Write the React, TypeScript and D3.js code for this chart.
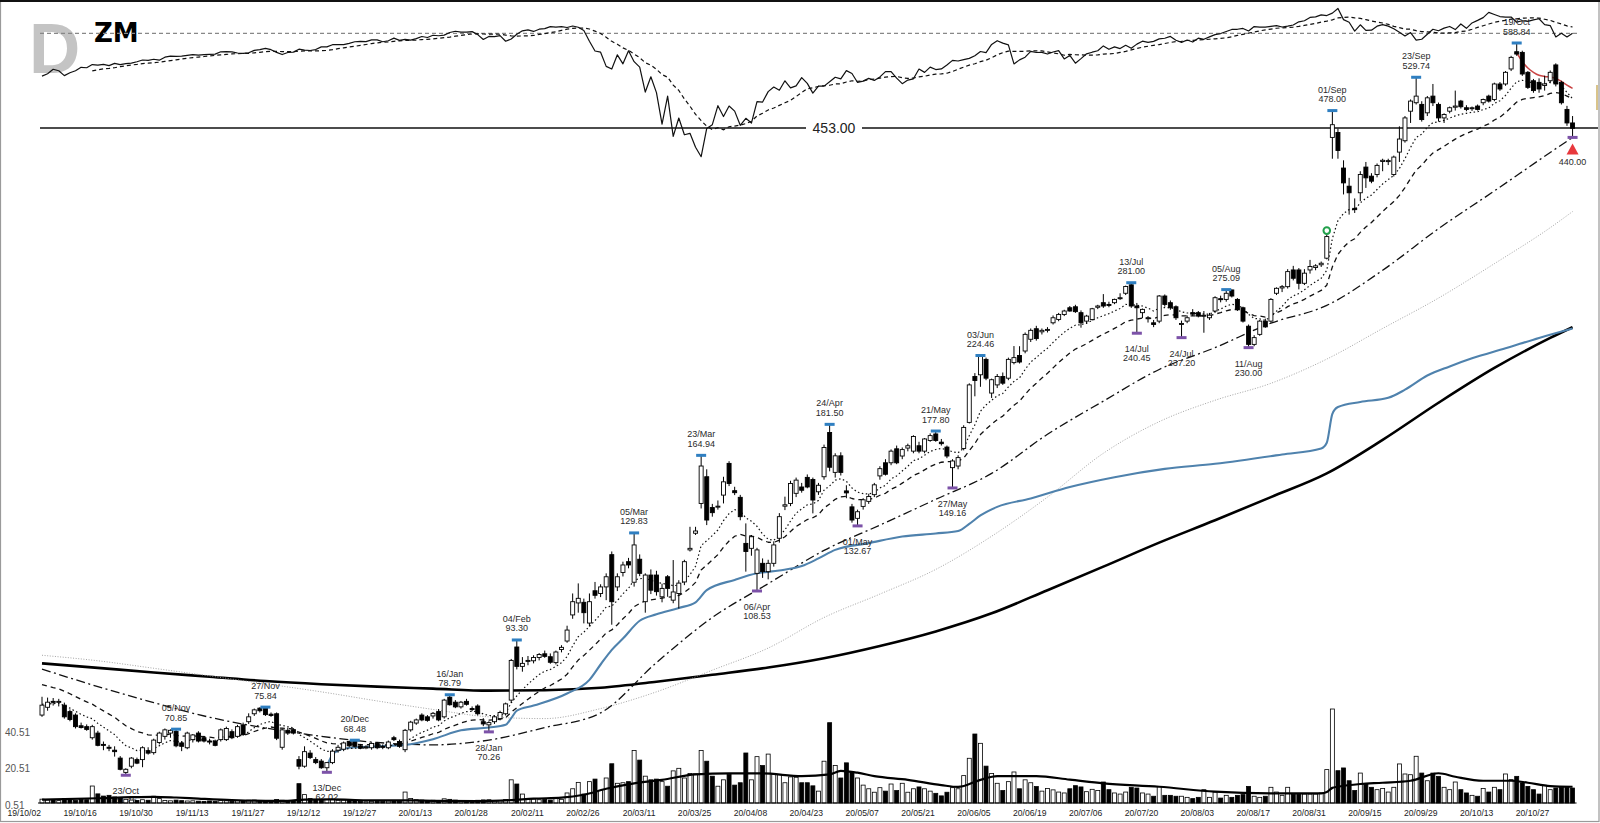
import React, { useEffect, useRef } from 'react';
import * as d3 from 'd3';

// x-axis labels, one every 10 trading days starting 2019-10-02
const tickLabels = ['19/10/02', '19/10/16', '19/10/30', '19/11/13', '19/11/27', '19/12/12', '19/12/27', '20/01/13', '20/01/28', '20/02/11', '20/02/26', '20/03/11', '20/03/25', '20/04/08', '20/04/23', '20/05/07', '20/05/21', '20/06/05', '20/06/19', '20/07/06', '20/07/20', '20/08/03', '20/08/17', '20/08/31', '20/09/15', '20/09/29', '20/10/13', '20/10/27'];

// ZM daily candles [open, high, low, close], trading day 0 = 2019-10-02
const ohlc: number[][] = [
  [74.0, 78.3, 73.6, 76.3], [75.8, 78.1, 75.0, 77.0], [77.2, 78.0, 76.2, 77.0], [77.0, 77.8, 76.0, 77.2], [76.3, 76.9, 73.2, 73.6],
  [74.8, 75.3, 72.6, 73.0], [74.0, 74.4, 71.0, 71.4], [71.6, 72.3, 71.0, 71.2], [71.4, 71.9, 70.5, 70.8], [69.0, 71.8, 68.6, 71.4],
  [70.0, 70.5, 67.2, 67.4], [67.6, 68.2, 66.4, 67.5], [67.0, 67.5, 66.2, 66.8], [66.4, 67.2, 65.1, 66.1], [64.8, 65.2, 62.4, 62.6],
  [62.0, 62.8, 61.46, 62.6], [63.2, 65.0, 62.8, 64.8], [64.5, 64.9, 63.6, 63.8], [64.5, 67.2, 63.0, 66.9], [66.3, 67.0, 65.5, 65.8],
  [65.9, 68.8, 65.5, 68.5], [68.0, 70.3, 67.6, 70.0], [69.3, 71.0, 68.6, 70.7], [70.0, 70.8, 69.0, 70.6], [70.4, 70.85, 67.0, 67.3],
  [67.9, 68.3, 66.2, 67.2], [66.9, 70.3, 66.6, 70.0], [68.6, 69.8, 68.0, 69.6], [70.0, 70.4, 68.0, 68.3], [69.0, 69.4, 68.0, 68.3],
  [68.3, 68.8, 67.6, 68.2], [68.3, 68.6, 67.2, 67.4], [68.6, 71.0, 68.2, 70.7], [68.6, 71.4, 68.3, 71.0], [70.3, 70.8, 68.7, 69.0],
  [69.3, 71.8, 69.0, 71.4], [71.8, 72.3, 69.4, 69.7], [72.5, 74.4, 72.0, 73.6], [74.3, 75.5, 73.8, 75.2], [75.6, 75.8, 74.6, 75.0],
  [75.7, 75.84, 73.8, 74.1], [74.2, 74.6, 73.6, 73.9], [74.3, 74.6, 68.5, 68.9], [67.0, 71.0, 66.5, 70.7], [70.6, 71.2, 69.6, 70.0],
  [70.7, 71.0, 69.7, 70.0], [64.5, 65.2, 62.6, 63.2], [63.2, 67.2, 62.9, 66.1], [65.8, 66.4, 64.6, 64.9], [64.5, 65.0, 63.6, 63.9],
  [64.2, 64.6, 62.7, 62.9], [62.9, 64.0, 62.02, 63.9], [63.9, 66.6, 63.6, 66.2], [66.4, 67.5, 65.9, 67.0], [66.6, 68.2, 66.2, 67.9],
  [68.2, 68.4, 67.0, 67.3], [68.2, 68.48, 67.0, 67.2], [67.3, 67.7, 66.6, 66.8], [67.0, 67.4, 66.6, 67.1], [66.9, 68.0, 66.5, 67.8],
  [67.8, 68.1, 66.6, 66.9], [67.2, 67.6, 66.6, 67.1], [66.9, 68.4, 66.6, 68.1], [69.0, 69.4, 68.3, 68.6], [68.2, 68.6, 66.9, 67.2],
  [66.5, 70.9, 66.0, 70.6], [70.7, 72.7, 70.3, 72.4], [72.2, 73.2, 71.8, 72.9], [74.0, 74.4, 72.6, 72.9], [73.6, 74.0, 72.5, 72.8],
  [73.8, 74.7, 73.2, 74.4], [74.8, 75.4, 72.6, 72.9], [73.6, 77.8, 73.2, 77.5], [78.2, 78.79, 76.2, 76.4], [77.0, 77.5, 75.6, 75.9],
  [75.9, 77.3, 75.5, 77.0], [77.2, 77.8, 76.2, 76.5], [75.5, 76.0, 74.9, 75.3], [76.1, 76.5, 73.9, 74.3], [72.5, 73.3, 71.5, 72.0],
  [71.8, 72.6, 70.26, 72.3], [72.5, 73.8, 72.0, 73.6], [73.2, 75.0, 72.8, 74.6], [74.3, 76.9, 73.9, 76.6], [77.5, 88.0, 76.8, 87.6],
  [91.3, 93.3, 85.2, 86.0], [86.0, 88.5, 84.6, 86.8], [87.4, 88.8, 86.3, 87.6], [87.5, 89.0, 86.8, 88.4], [88.4, 89.6, 87.6, 89.2],
  [89.4, 90.3, 88.3, 88.7], [88.6, 89.5, 86.7, 87.1], [87.0, 90.3, 86.5, 89.9], [90.6, 91.8, 89.8, 91.2], [93.0, 97.5, 92.5, 96.2],
  [100.8, 107.7, 99.6, 105.0], [104.6, 111.1, 101.5, 106.1], [104.8, 106.0, 98.2, 101.5], [98.3, 107.7, 97.3, 105.0], [108.6, 111.6, 106.0, 107.1],
  [107.7, 110.8, 106.5, 109.9], [109.9, 114.6, 105.5, 113.4], [121.4, 122.6, 97.8, 105.0], [109.9, 114.6, 108.5, 113.4], [114.9, 118.8, 113.5, 117.6],
  [118.8, 120.2, 116.4, 117.6], [111.5, 129.83, 110.0, 125.1], [119.7, 121.5, 113.6, 114.6], [105.0, 114.6, 101.5, 114.0], [114.0, 116.0, 107.5, 108.8],
  [114.0, 115.5, 107.0, 108.3], [106.6, 111.0, 104.8, 109.4], [113.4, 114.0, 106.6, 109.4], [105.5, 119.4, 104.5, 108.2], [107.7, 112.2, 102.8, 111.2],
  [111.6, 119.5, 110.5, 118.8], [123.2, 132.3, 122.6, 123.8], [129.7, 132.3, 129.0, 130.6], [142.2, 164.94, 140.0, 159.6], [154.4, 158.0, 133.0, 135.1],
  [140.4, 142.0, 136.5, 138.2], [140.6, 143.5, 139.5, 141.0], [145.9, 154.4, 142.2, 152.0], [160.9, 162.0, 150.0, 151.2], [147.9, 149.7, 145.9, 147.0],
  [144.9, 146.0, 135.0, 136.5], [125.7, 133.7, 115.2, 122.6], [123.8, 129.0, 121.0, 128.3], [114.6, 124.0, 108.53, 123.2], [118.2, 120.0, 113.0, 115.2],
  [115.2, 119.5, 112.5, 118.2], [118.2, 126.5, 117.0, 125.1], [127.7, 138.0, 126.0, 136.5], [141.0, 145.2, 139.3, 141.6], [142.2, 152.5, 141.0, 151.2],
  [146.7, 154.0, 145.0, 152.8], [149.6, 151.5, 147.0, 148.1], [154.1, 155.5, 149.0, 149.6], [153.1, 154.0, 137.9, 143.7], [147.4, 151.5, 146.0, 150.4],
  [154.4, 170.5, 153.0, 169.0], [177.0, 181.5, 157.0, 159.0], [156.5, 166.0, 154.0, 164.7], [164.7, 166.5, 155.0, 156.5], [147.8, 150.4, 144.5, 146.9],
  [140.7, 142.0, 134.0, 135.1], [135.8, 139.5, 132.67, 138.6], [140.9, 144.5, 139.5, 143.8], [143.1, 146.5, 142.0, 145.3], [146.1, 151.5, 145.0, 150.6],
  [154.8, 159.5, 153.0, 158.3], [161.2, 163.0, 155.0, 155.6], [161.2, 168.0, 160.0, 167.1], [168.3, 170.0, 160.5, 161.2], [164.6, 169.0, 163.0, 167.9],
  [168.7, 171.0, 167.0, 169.9], [167.1, 175.5, 166.0, 174.8], [169.9, 172.0, 166.0, 167.1], [167.1, 174.0, 166.0, 173.5], [172.7, 176.5, 172.0, 175.3],
  [176.2, 177.8, 172.0, 172.7], [171.8, 173.5, 170.0, 171.0], [169.2, 170.0, 163.5, 164.6], [158.8, 163.0, 149.16, 162.1], [159.6, 165.0, 158.0, 163.8],
  [168.5, 181.0, 167.5, 179.8], [182.6, 206.0, 182.0, 205.0], [210.4, 212.6, 197.9, 207.8], [211.5, 224.46, 203.8, 224.1], [221.8, 223.0, 208.0, 209.3],
  [199.9, 209.0, 196.9, 208.3], [205.0, 212.0, 203.0, 210.4], [210.4, 213.0, 205.0, 206.1], [209.3, 223.0, 208.0, 221.8], [219.6, 231.1, 218.4, 223.0],
  [224.5, 231.0, 219.0, 220.0], [227.6, 241.0, 226.0, 239.6], [236.0, 244.0, 234.0, 242.6], [243.8, 246.0, 235.0, 236.5], [241.5, 244.0, 239.5, 242.6],
  [242.6, 245.0, 241.0, 243.3], [248.3, 254.0, 247.0, 252.2], [250.9, 256.0, 249.5, 254.8], [254.8, 258.5, 253.5, 257.5], [260.1, 261.5, 257.0, 257.5],
  [260.9, 262.5, 256.0, 257.0], [256.2, 258.0, 244.6, 248.3], [249.6, 254.5, 247.5, 253.5], [250.9, 260.0, 250.0, 259.3], [260.5, 262.5, 259.0, 261.5],
  [264.2, 271.3, 260.0, 261.5], [262.8, 265.0, 260.5, 262.5], [264.2, 267.5, 263.0, 266.9], [267.8, 272.0, 266.5, 268.3], [272.0, 278.5, 270.5, 277.7],
  [279.2, 281.0, 260.0, 261.5], [261.5, 264.0, 240.45, 260.1], [256.2, 259.5, 252.0, 258.8], [251.5, 253.5, 248.5, 252.2], [248.3, 250.5, 245.0, 247.0],
  [249.6, 270.5, 248.0, 269.7], [269.7, 271.0, 261.0, 262.8], [264.2, 266.0, 258.5, 260.1], [260.9, 262.0, 250.5, 252.2], [247.0, 250.0, 237.2, 247.8],
  [249.6, 254.0, 248.0, 252.2], [256.2, 259.0, 253.5, 255.0], [256.2, 257.5, 252.5, 253.5], [253.5, 257.5, 240.8, 254.2], [252.2, 256.0, 250.5, 254.2],
  [257.5, 269.5, 256.0, 268.3], [267.5, 270.0, 264.5, 266.9], [266.9, 275.09, 265.0, 272.0], [274.8, 275.0, 268.5, 269.7], [266.9, 268.0, 257.5, 258.8],
  [260.1, 261.0, 248.5, 249.6], [245.7, 247.0, 230.0, 232.3], [232.3, 239.0, 231.0, 237.2], [239.6, 250.5, 238.5, 249.6], [249.6, 251.5, 244.5, 245.2],
  [249.6, 268.0, 248.5, 266.9], [272.0, 277.0, 270.5, 276.2], [276.5, 279.0, 273.0, 277.6], [277.6, 293.0, 276.0, 290.8], [292.3, 296.0, 283.0, 284.9],
  [292.3, 294.0, 275.3, 280.5], [280.5, 293.0, 279.0, 289.4], [292.3, 301.5, 289.0, 295.4], [294.5, 297.5, 292.0, 296.0], [297.0, 300.0, 295.0, 298.4],
  [303.1, 326.0, 302.0, 324.0], [440.0, 478.0, 412.0, 457.6], [446.7, 452.0, 412.0, 422.6], [400.3, 410.0, 369.0, 382.4], [378.5, 388.4, 346.7, 370.9],
  [353.5, 364.5, 348.5, 352.1], [370.9, 396.4, 361.4, 392.4], [401.5, 407.9, 376.5, 388.4], [390.4, 394.0, 382.0, 384.4], [392.4, 406.0, 389.0, 403.6],
  [408.5, 412.0, 396.4, 410.0], [408.7, 412.0, 404.0, 409.6], [392.4, 416.0, 390.0, 414.1], [420.5, 455.3, 407.9, 437.8], [435.5, 470.0, 433.0, 467.3],
  [477.1, 494.7, 460.1, 492.2], [489.7, 529.74, 487.0, 499.8], [487.2, 492.0, 462.0, 464.9], [474.7, 500.0, 470.0, 497.2], [499.8, 518.9, 484.7, 489.7],
  [487.2, 490.0, 462.0, 467.3], [467.3, 474.0, 460.0, 472.2], [477.1, 484.0, 474.0, 482.2], [483.0, 508.4, 478.0, 484.7], [492.2, 494.0, 481.0, 483.7],
  [482.2, 486.0, 477.0, 479.7], [481.0, 484.0, 477.5, 482.2], [484.7, 487.0, 478.0, 479.7], [489.7, 496.0, 486.0, 494.7], [499.8, 502.0, 490.0, 492.2],
  [494.7, 521.0, 492.0, 518.9], [518.9, 522.0, 508.0, 510.9], [518.9, 540.0, 516.0, 537.9], [543.5, 566.0, 540.0, 563.3], [573.2, 588.84, 566.0, 569.1],
  [572.0, 575.0, 532.0, 535.1], [537.9, 540.0, 511.0, 513.5], [524.1, 527.0, 505.0, 508.4], [521.5, 528.0, 505.0, 510.9], [516.5, 532.3, 508.4, 518.9],
  [524.1, 541.0, 520.0, 537.9], [550.3, 553.0, 515.0, 518.9], [521.5, 524.0, 487.0, 489.7], [479.7, 485.0, 456.0, 460.1], [460.1, 470.0, 440.0, 452.6],
];

// volume, millions of shares
const volume = [
  2.1, 1.6, 1.8, 1.3, 2.4, 1.7, 1.5, 1.9, 1.8, 9.3, 5.0, 3.8, 4.2, 3.3, 2.7, 2.0, 1.6, 1.4, 1.8, 1.5,
  3.7, 2.4, 1.4, 1.2, 1.6, 1.3, 1.1, 1.2, 1.0, 0.9, 1.1, 0.9, 1.3, 1.2, 1.0, 1.4, 1.2, 1.5, 1.6, 1.3,
  1.4, 0.8, 1.9, 1.5, 1.2, 1.4, 10.6, 4.6, 2.4, 1.8, 1.6, 2.0, 1.9, 1.5, 1.6, 1.3, 1.2, 0.9, 0.7, 0.9,
  1.0, 0.8, 1.1, 1.2, 1.0, 6.0, 2.5, 1.8, 1.6, 1.3, 1.5, 1.4, 2.3, 2.0, 1.6, 1.3, 1.4, 1.0, 1.5, 1.7,
  1.8, 1.2, 1.4, 1.9, 12.7, 10.4, 4.9, 2.5, 2.2, 1.8, 2.0, 1.6, 2.4, 2.0, 5.5, 7.8, 11.3, 4.9, 11.7, 13.1,
  6.8, 13.7, 21.5, 10.8, 11.1, 11.7, 28.8, 23.5, 14.7, 12.7, 13.1, 11.7, 9.2, 17.6, 19.0, 13.7, 16.2, 16.0, 28.8, 22.9,
  14.7, 9.2, 12.7, 15.7, 9.8, 11.1, 27.4, 12.7, 25.4, 20.5, 26.8, 16.0, 15.7, 11.1, 14.3, 14.1, 11.1, 11.1, 9.4, 6.5,
  22.9, 44.0, 20.5, 13.7, 22.0, 17.0, 13.7, 9.8, 7.8, 5.9, 8.4, 6.5, 10.4, 6.8, 10.8, 5.9, 7.8, 8.8, 7.8, 6.5,
  5.3, 3.9, 5.9, 8.4, 7.8, 15.0, 24.5, 37.8, 32.7, 20.2, 16.2, 10.8, 6.8, 11.7, 17.0, 7.8, 12.7, 11.1, 9.0, 6.5,
  8.0, 7.2, 6.0, 5.5, 7.8, 9.5, 8.8, 6.2, 7.5, 6.8, 11.5, 7.3, 5.5, 4.9, 6.0, 8.6, 8.2, 5.5, 4.9, 3.7,
  9.1, 4.2, 4.2, 3.7, 3.7, 3.1, 2.4, 3.1, 7.3, 3.1, 6.0, 2.7, 4.2, 3.1, 4.2, 4.6, 9.1, 3.7, 3.1, 3.7,
  8.6, 6.0, 4.2, 8.6, 4.9, 4.9, 4.9, 4.9, 4.9, 5.5, 18.3, 51.5, 17.7, 19.2, 12.2, 6.8, 16.4, 10.4, 8.6, 7.3,
  7.9, 6.0, 8.6, 21.4, 15.9, 15.5, 25.6, 16.4, 12.2, 16.4, 14.6, 8.6, 7.3, 11.5, 7.3, 5.5, 4.2, 3.7, 7.9, 6.0,
  8.6, 7.3, 15.9, 12.8, 14.6, 11.0, 9.1, 7.3, 4.9, 9.7, 7.3, 8.2, 8.6, 8.6, 8.2,
];

// S&P 500 closes, top panel
const spx = [
  2888, 2910, 2952, 2938, 2893, 2919, 2938, 2970, 2966, 2996, 2990, 2998, 2986, 3007, 2996, 3005, 3010, 3023, 3040, 3036,
  3047, 3038, 3067, 3078, 3075, 3077, 3085, 3093, 3087, 3092, 3094, 3097, 3120, 3122, 3120, 3108, 3104, 3110, 3134, 3141,
  3154, 3141, 3114, 3093, 3113, 3117, 3146, 3136, 3133, 3142, 3169, 3169, 3191, 3193, 3191, 3205, 3221, 3224, 3223, 3240,
  3240, 3221, 3231, 3258, 3235, 3246, 3237, 3253, 3275, 3265, 3288, 3283, 3289, 3317, 3330, 3321, 3321, 3326, 3295, 3244,
  3276, 3273, 3284, 3226, 3249, 3298, 3335, 3345, 3328, 3352, 3358, 3379, 3374, 3380, 3370, 3386, 3373, 3338, 3226, 3128,
  3116, 2979, 2954, 3090, 3003, 3130, 3024, 2972, 2746, 2882, 2741, 2481, 2711, 2386, 2529, 2398, 2409, 2305, 2237, 2447,
  2476, 2630, 2541, 2627, 2585, 2471, 2527, 2489, 2664, 2660, 2750, 2790, 2762, 2846, 2783, 2800, 2875, 2823, 2737, 2799,
  2798, 2837, 2878, 2863, 2939, 2912, 2831, 2843, 2868, 2849, 2881, 2930, 2930, 2870, 2820, 2852, 2864, 2954, 2923, 2972,
  2949, 2955, 2992, 3036, 3030, 3044, 3056, 3081, 3123, 3112, 3194, 3232, 3207, 3190, 3002, 3041, 3067, 3125, 3113, 3115,
  3098, 3118, 3131, 3050, 3084, 3009, 3053, 3100, 3116, 3130, 3179, 3145, 3169, 3152, 3185, 3155, 3197, 3227, 3215, 3225,
  3251, 3257, 3276, 3236, 3215, 3239, 3218, 3258, 3246, 3271, 3295, 3306, 3327, 3349, 3351, 3360, 3333, 3380, 3373, 3373,
  3382, 3390, 3375, 3385, 3397, 3431, 3443, 3479, 3485, 3508, 3500, 3527, 3580, 3455, 3427, 3332, 3399, 3339, 3341, 3384,
  3401, 3385, 3357, 3320, 3281, 3316, 3237, 3247, 3298, 3351, 3335, 3363, 3381, 3348, 3408, 3361, 3419, 3447, 3477, 3535,
  3512, 3489, 3483, 3484, 3427, 3443, 3436, 3453, 3465, 3401, 3391, 3271, 3310, 3270, 3310,
];
const spxRefLevel = 3308;

// slower averages: [trading day, value]
const sma50 = [[0, 85.3], [10, 80.8], [20, 76.9], [30, 73.5], [40, 71.1], [50, 69.3], [60, 68.0], [70, 67.5], [80, 68.5], [90, 71.2], [100, 74.5], [110, 87.0], [120, 100.0], [130, 111.0], [140, 123.0], [150, 133.0], [160, 144.0], [170, 156.0], [180, 176.0], [190, 195.0], [200, 215.0], [210, 230.0], [220, 248.0], [230, 262.0], [240, 292.0], [250, 332.0], [260, 373.0], [270, 420.0], [274, 440.0]];
const sma100 = [[0, 89.0], [10, 87.5], [20, 85.5], [30, 83.5], [40, 81.5], [50, 79.5], [60, 77.3], [70, 75.3], [80, 73.6], [90, 73.2], [100, 75.5], [110, 79.5], [120, 85.0], [130, 91.0], [140, 100.0], [150, 107.5], [160, 116.0], [170, 128.5], [180, 145.0], [190, 166.0], [200, 183.0], [210, 195.5], [220, 206.0], [230, 222.0], [240, 244.0], [250, 268.0], [260, 298.0], [270, 333.0], [274, 350.0]];
const sma200 = [[0, 86.8], [10, 85.6], [20, 84.4], [30, 83.3], [40, 82.2], [50, 81.4], [60, 80.8], [70, 80.3], [80, 79.8], [90, 79.9], [100, 80.5], [110, 82.0], [120, 83.8], [130, 85.7], [140, 88.2], [150, 91.6], [160, 95.8], [170, 101.3], [180, 108.8], [190, 117.0], [200, 126.0], [210, 135.0], [220, 145.0], [230, 156.0], [240, 173.0], [250, 194.0], [260, 216.0], [270, 237.0], [274, 245.0]];
const vwapFromDec13 = [[51, 63.2], [52, 65.5], [53, 66.3], [55, 66.9], [60, 67.2], [65, 67.5], [70, 68.7], [75, 70.6], [80, 71.2], [83, 71.8], [84, 73.3], [85, 75.0], [88, 76.2], [94, 79.1], [98, 82.5], [100, 86.5], [102, 90.5], [104, 93.7], [107, 99.0], [110, 101.0], [114, 103.0], [117, 104.8], [119, 108.8], [124, 112.3], [128, 114.6], [132, 115.6], [136, 117.2], [139, 120.0], [142, 123.2], [148, 125.8], [154, 128.4], [160, 129.6], [164, 130.6], [166, 133.5], [168, 137.0], [171, 140.7], [177, 144.4], [184, 149.6], [192, 154.2], [201, 158.2], [210, 160.7], [222, 165.4], [229, 168.5], [230, 171.5], [231, 187.5], [232, 191.5], [236, 194.5], [241, 197.0], [244, 202.0], [248, 211.0], [252, 217.0], [256, 222.5], [262, 229.5], [268, 237.0], [274, 244.0]];
const vwapFromOct19 = [[264, 571], [265, 556], [266, 545], [267, 538], [268, 533], [269, 531], [270, 530], [271, 528], [272, 523], [273, 517], [274, 512]];
const volumeAvg = [[0, 1.8], [10, 2.6], [16, 3.2], [20, 3.4], [24, 3.0], [28, 2.4], [34, 1.6], [40, 1.2], [44, 1.2], [47, 1.9], [52, 2.0], [58, 1.5], [66, 1.4], [70, 1.2], [78, 1.0], [84, 1.6], [88, 2.4], [93, 2.9], [97, 4.5], [101, 7.8], [106, 10.8], [111, 12.7], [117, 15.7], [123, 16.2], [129, 16.2], [136, 14.7], [141, 15.7], [143, 17.6], [146, 16.6], [149, 14.7], [155, 12.7], [161, 9.8], [164, 8.8], [168, 12.7], [171, 14.7], [178, 14.7], [184, 12.8], [190, 10.8], [200, 8.9], [210, 6.2], [220, 5.3], [229, 5.3], [230, 6.0], [231, 8.3], [232, 8.9], [236, 10.4], [240, 11.1], [245, 12.2], [250, 16.3], [253, 14.4], [258, 12.2], [263, 12.2], [266, 11.1], [270, 9.3], [274, 8.9]];

// swing points: [trading day, label]
const swingHighs: [number, string][] = [[24, '05/Nov'], [40, '27/Nov'], [56, '20/Dec'], [73, '16/Jan'], [85, '04/Feb'], [106, '05/Mar'], [118, '23/Mar'], [141, '24/Apr'], [160, '21/May'], [168, '03/Jun'], [195, '13/Jul'], [212, '05/Aug'], [231, '01/Sep'], [246, '23/Sep'], [264, '19/Oct']];
const swingLows: [number, string][] = [[15, '23/Oct'], [51, '13/Dec'], [80, '28/Jan'], [128, '06/Apr'], [146, '01/May'], [163, '27/May'], [196, '14/Jul'], [204, '24/Jul'], [216, '11/Aug'], [274, '']];
const levelPrice = 453;
const volTicks = [0.51, 20.51, 40.51];
const pocketPivotDay = 230;

const FONT = '"Liberation Sans", Arial, sans-serif';

const App = () => {
  const ref = useRef<SVGSVGElement>(null);

  useEffect(() => {
    const width = 1600;
    const height = 823;
    const svg = d3.select(ref.current).attr('width', width).attr('height', height);
    svg.selectAll('*').remove();

    const last = ohlc.length - 1;
    const x = d3.scaleLinear().domain([0, last]).range([42, 42 + last * 5.586]);
    const y = d3.scaleLog().domain([62.02, 588.84]).range([772.3, 43]);
    const yv = d3.scaleLinear().domain([0, 40]).range([803, 730]);
    const ys = d3.scaleLog().domain([2237, 3386]).range([156.7, 26]);

    const closes = ohlc.map(d => d[3]);
    const ema = (n: number, seed: number) => {
      const k = 2 / (n + 1);
      let e = seed;
      return closes.map((c, i) => (i === 0 ? seed : (e = e + k * (c - e))));
    };
    const ema10 = ema(10, 76.5).map((v, i) => [i, v]);
    const ema21 = ema(21, 81.3).map((v, i) => [i, v]);
    const spxAvg = spx.map((v, i) => [i, i < 9 ? NaN : d3.mean(spx.slice(i - 9, i + 1)) as number]).filter(d => !isNaN(d[1]));

    svg.append('rect').attr('width', width).attr('height', height).attr('fill', '#fff');

    // ticker watermark
    svg.append('text').attr('x', 29).attr('y', 73).attr('font-family', FONT).attr('font-weight', 'bold')
      .attr('font-size', 71).attr('fill', '#c4c4c4').text('D');
    svg.append('text').attr('x', 94).attr('y', 42).attr('font-family', '"DejaVu Sans", sans-serif').attr('font-weight', 'bold')
      .attr('font-size', 26).attr('fill', '#000').text('ZM');

    // market panel
    svg.append('line').attr('x1', 40).attr('x2', 1577).attr('y1', ys(spxRefLevel)).attr('y2', ys(spxRefLevel))
      .attr('stroke', '#888').attr('stroke-width', 1.3).attr('stroke-dasharray', '4,3');
    const spxLine = d3.line<number[]>().x(d => x(d[0])).y(d => ys(d[1]));
    svg.append('path').datum(spx.map((v, i) => [i, v])).attr('d', spxLine).attr('fill', 'none')
      .attr('stroke', '#111').attr('stroke-width', 1.2).attr('stroke-linejoin', 'round');
    svg.append('path').datum(spxAvg).attr('d', spxLine).attr('fill', 'none')
      .attr('stroke', '#111').attr('stroke-width', 1.2).attr('stroke-dasharray', '4,3');

    // horizontal level
    const ly = y(levelPrice);
    svg.append('line').attr('x1', 40).attr('x2', 1598).attr('y1', ly).attr('y2', ly).attr('stroke', '#111').attr('stroke-width', 1.3);
    svg.append('rect').attr('x', 806).attr('y', ly - 8).attr('width', 56).attr('height', 16).attr('fill', '#fff');
    svg.append('text').attr('x', 834).attr('y', ly + 5).attr('text-anchor', 'middle').attr('font-family', FONT)
      .attr('font-size', 14).attr('fill', '#222').text(levelPrice.toFixed(2));

    // price averages
    const smooth = d3.line<number[]>().x(d => x(d[0])).y(d => y(d[1])).curve(d3.curveMonotoneX);
    const straight = d3.line<number[]>().x(d => x(d[0])).y(d => y(d[1]));
    const addLine = (data: number[][], gen: any, stroke: string, w: number, dash?: string) => {
      const p = svg.append('path').datum(data).attr('d', gen).attr('fill', 'none')
        .attr('stroke', stroke).attr('stroke-width', w).attr('stroke-linejoin', 'round');
      if (dash) p.attr('stroke-dasharray', dash);
    };
    addLine(sma200, smooth, '#000', 2.6);
    addLine(sma100, smooth, '#9a9a9a', 0.9, '1,1.6');
    addLine(sma50, smooth, '#111', 1.3, '9,3.5,2,3.5');
    addLine(vwapFromDec13, smooth, '#4f82ad', 2.1);
    addLine(ema21, straight, '#111', 1.3, '5,4');
    addLine(ema10, straight, '#111', 1.2, '1.5,2.5');
    addLine(vwapFromOct19, smooth, '#c94545', 1.5);

    // candles
    const bw = 4;
    const g = svg.append('g');
    g.selectAll('.wick').data(ohlc).join('line').attr('class', 'wick')
      .attr('x1', (d, i) => x(i)).attr('x2', (d, i) => x(i))
      .attr('y1', d => y(d[1])).attr('y2', d => y(d[2]))
      .attr('stroke', '#000').attr('stroke-width', 1);
    g.selectAll('.body').data(ohlc).join('rect').attr('class', 'body')
      .attr('x', (d, i) => x(i) - bw / 2).attr('width', bw)
      .attr('y', d => y(Math.max(d[0], d[3])))
      .attr('height', d => Math.max(1, y(Math.min(d[0], d[3])) - y(Math.max(d[0], d[3]))))
      .attr('fill', d => (d[3] >= d[0] ? '#fff' : '#000'))
      .attr('stroke', '#000').attr('stroke-width', 0.9);

    // swing markers and labels
    const lbl = (tx: number, ty: number, s: string) =>
      svg.append('text').attr('x', tx).attr('y', ty).attr('text-anchor', 'middle').attr('font-family', FONT)
        .attr('font-size', 9).attr('fill', '#2a2a2a').text(s);
    swingHighs.forEach(([i, name]) => {
      const hy = y(ohlc[i][1]);
      svg.append('rect').attr('x', x(i) - 5).attr('y', hy - 1.5).attr('width', 10).attr('height', 3).attr('fill', '#2f7fc1');
      lbl(x(i), hy - 18, name);
      lbl(x(i), hy - 8.5, ohlc[i][1].toFixed(2));
    });
    swingLows.forEach(([i, name]) => {
      const lyy = y(ohlc[i][2]);
      svg.append('rect').attr('x', x(i) - 5).attr('y', lyy - 1.5).attr('width', 10).attr('height', 3).attr('fill', '#7c52a8');
      if (name) {
        lbl(x(i), lyy + 19, name);
        lbl(x(i), lyy + 28, ohlc[i][2].toFixed(2));
      } else {
        lbl(x(i), lyy + 28, ohlc[i][2].toFixed(2));
        svg.append('path')
          .attr('d', `M${x(i) - 6},${lyy + 17}L${x(i) + 6},${lyy + 17}L${x(i)},${lyy + 6}Z`)
          .attr('fill', '#e8383d');
      }
    });
    svg.append('circle').attr('cx', x(pocketPivotDay)).attr('cy', y(ohlc[pocketPivotDay][1]) - 4).attr('r', 3.3)
      .attr('fill', '#fff').attr('stroke', '#22a04b').attr('stroke-width', 2);

    // volume
    const vg = svg.append('g');
    vg.selectAll('rect').data(volume).join('rect')
      .attr('x', (d, i) => x(i) - bw / 2).attr('width', bw)
      .attr('y', d => yv(d)).attr('height', d => yv(0) - yv(d))
      .attr('fill', (d, i) => (ohlc[i][3] >= ohlc[i][0] ? '#fff' : '#000'))
      .attr('stroke', '#000').attr('stroke-width', 0.8);
    svg.append('line').attr('x1', x(0) - 4).attr('x2', x(last) + 4).attr('y1', yv(0)).attr('y2', yv(0))
      .attr('stroke', '#000').attr('stroke-width', 1);
    svg.append('path').datum(volumeAvg)
      .attr('d', d3.line<number[]>().x(d => x(d[0])).y(d => yv(d[1])).curve(d3.curveMonotoneX))
      .attr('fill', 'none').attr('stroke', '#000').attr('stroke-width', 2.2);

    volTicks.forEach(v => {
      svg.append('text').attr('x', 5).attr('y', yv(v) + 6.5).attr('font-family', FONT).attr('font-size', 10)
        .attr('fill', '#555').text(v.toFixed(2));
    });

    // date axis
    tickLabels.forEach((t, k) => {
      svg.append('text').attr('x', x(k * 10) - 1).attr('y', 816).attr('text-anchor', 'end')
        .attr('font-family', FONT).attr('font-size', 8.6).attr('fill', '#222').text(t);
    });

    // frame
    svg.append('rect').attr('x', 0.5).attr('y', 0.5).attr('width', width - 1.5).attr('height', height - 2)
      .attr('fill', 'none').attr('stroke', '#9a9a9a').attr('stroke-width', 1.2);
    svg.append('line').attr('x1', 0).attr('x2', width).attr('y1', 1).attr('y2', 1).attr('stroke', '#111').attr('stroke-width', 2);
    svg.append('rect').attr('x', 1596).attr('y', 85).attr('width', 2).attr('height', 25).attr('fill', '#d9c48a');
  }, []);

  return (
    <div>
      <style>{'body{margin:0;background:#fff}'}</style>
      <svg ref={ref} style={{ display: 'block' }}></svg>
    </div>
  );
};

export default App;
